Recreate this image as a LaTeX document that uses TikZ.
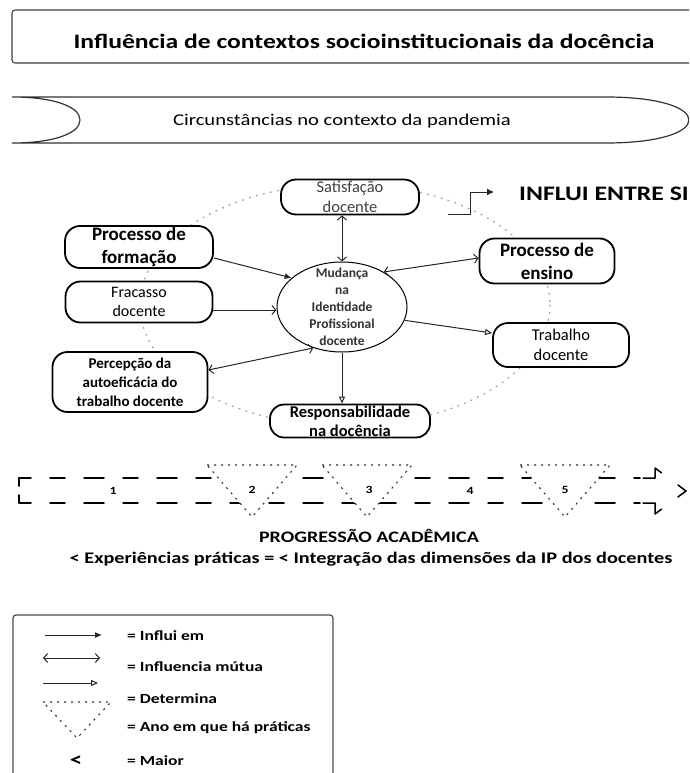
\documentclass[tikz,border=0pt]{standalone}
\usepackage{fontspec}
\setmainfont{Carlito}[FakeStretch=1.25]
\newfontfamily\nodefont{Carlito}
\usetikzlibrary{arrows.meta,shapes.geometric}
\begin{document}
\begin{tikzpicture}[x=1pt,y=-1pt,
  box/.style={draw=black,line width=1.8pt,rounded corners=15pt,fill=white,align=center,inner sep=0pt},
  dotline/.style={draw=gray!70,line width=1.3pt,dash pattern=on 1.2pt off 6pt,line cap=round},
  tridot/.style={draw=black!80,line width=1.1pt,dash pattern=on 2pt off 5pt,fill=white},
  conn/.style={line width=1pt,draw=black!85},
  influi/.style={conn,-{Latex[length=7pt,width=6pt]}},
  mutua/.style={conn,{Straight Barb[length=4pt,width=9pt]}-{Straight Barb[length=4pt,width=9pt]}},
  uni/.style={conn,-{Straight Barb[length=4pt,width=9pt]}},
  determ/.style={conn,-{Triangle[open,length=7pt,width=6pt]}},
  bandline/.style={line width=1.5pt,line cap=round,line join=round},
  lgtext/.style={anchor=west,inner sep=0pt,font=\fontsize{14}{16}\selectfont\bfseries},
  numtext/.style={inner sep=0pt,font=\fontsize{11}{13}\selectfont\bfseries}
]
\clip (0,0) rectangle (689,773);
\fill[white] (0,0) rectangle (689,773);

% title
\draw[line width=1.1pt,draw=black!75,rounded corners=3pt] (12,10) rectangle (720,63);
\node[inner sep=0pt,font=\fontsize{20.5}{24}\selectfont\bfseries] (title) at (364,41) {Influência de contextos socioinstitucionais da docência};

% pandemia band
\draw[line width=1.2pt,draw=black!80] (12,97) -- (606,97) .. controls (660,97) and (689,108) .. (689,120)
  .. controls (689,132) and (660,143) .. (606,143) -- (12,143)
  .. controls (55,143) and (80,133) .. (80,120) .. controls (80,107) and (55,97) .. (12,97);
\node[inner sep=0pt,font=\fontsize{16.5}{20}\selectfont] (pand) at (342,121) {Circunstâncias no contexto da pandemia};

% dotted ring
\draw[dotline] (345,305) ellipse [x radius=205, y radius=121];

% nodes
\node[box,minimum width=138pt,minimum height=35pt,text=gray!50!black,font=\nodefont\fontsize{16.5}{20}\selectfont] (sat) at (350,197) {Satisfação\\docente};
\node[box,minimum width=148pt,minimum height=42pt,font=\nodefont\fontsize{19}{23}\selectfont\bfseries] (pf) at (139,247) {Processo de\\formação};
\node[box,minimum width=135pt,minimum height=45pt,font=\nodefont\fontsize{19}{23}\selectfont\bfseries] (pe) at (547,261) {Processo de\\ensino};
\node[box,minimum width=147pt,minimum height=41pt,font=\nodefont\fontsize{16}{19}\selectfont] (fr) at (139,302) {Fracasso\\docente};
\node[box,minimum width=155pt,minimum height=60pt,font=\nodefont\fontsize{15}{19}\selectfont\bfseries] (pc) at (130,382) {Percepção da\\autoeficácia do\\trabalho docente};
\node[box,minimum width=160pt,minimum height=33pt,rounded corners=14pt,font=\nodefont\fontsize{16.5}{19}\selectfont\bfseries] (rs) at (350,421) {Responsabilidade\\na docência};
\node[box,minimum width=136pt,minimum height=44pt,font=\nodefont\fontsize{16.5}{20}\selectfont] (tb) at (561,345) {Trabalho\\docente};
\node[ellipse,draw=black,line width=1pt,fill=white,minimum width=130pt,minimum height=90pt,inner sep=0pt] (el) at (342,307) {};
\node[inner sep=0pt,align=center,font=\nodefont\fontsize{13.5}{17}\selectfont\bfseries,text=black!80] (elt) at (342,307) {Mudança\\na\\Identidade\\Profissional\\docente};

% connectors
\draw[mutua] (el.north |- sat.south) -- (el.north);
\draw[influi] ([yshift=-11pt]pf.east) -- (el.150);
\draw[uni] ([yshift=-8pt]fr.east) -- ([yshift=-8pt]fr.east -| el.west);
\draw[mutua] ([yshift=12pt]pc.east) -- (el.235);
\draw[mutua] (el.40) -- ([yshift=3pt]pe.west);
\draw[determ] (el.-12) -- ([yshift=12pt]tb.west);
\draw[determ] (el.south) -- (el.south |- rs.north);

% influi entre si
\node[anchor=west,inner sep=0pt,font=\fontsize{20.6}{24}\selectfont\bfseries] (ies) at (519,194) {INFLUI ENTRE SI};
\coordinate (ia) at (448,214);
\coordinate (ib) at (470,214);
\coordinate (ic) at (494,192);
\draw[conn,-{Latex[length=7pt,width=7pt]}] (ia) -- (ib) |- (ic);

% progression band (dashed block arrow)
\draw[bandline,dash pattern=on 20pt off 19pt on 15pt off 19pt] (19,486) -- (19,478) -- (640,478);
\draw[bandline,dash pattern=on 20pt off 19pt on 15pt off 19pt] (19,495) -- (19,503) -- (640,503);
\draw[bandline,dash pattern=on 30pt off 20.6pt on 20pt off 20.6pt on 40pt off 5pt]
  (643,478) -- (655,478) -- (655,468) -- (686,491) -- (655,514) -- (655,503) -- (643,503);
\draw[tridot] (207,465) -- (297,465) -- (252,517) -- cycle;
\draw[tridot] (322,465) -- (412,465) -- (367,517) -- cycle;
\draw[tridot] (520,465) -- (610,465) -- (565,517) -- cycle;
\node[numtext] (n1) at (113,491) {1};
\node[numtext] (n2) at (252,490) {2};
\node[numtext] (n3) at (369,490) {3};
\node[numtext] (n4) at (470,491) {4};
\node[numtext] (n5) at (565,490) {5};

\node[inner sep=0pt,font=\fontsize{16}{19}\selectfont\bfseries] (prog) at (369,536) {PROGRESSÃO ACADÊMICA};
\node[inner sep=0pt,font=\fontsize{16.2}{19}\selectfont\bfseries] (exp) at (371,559) {< Experiências práticas = < Integração das dimensões da IP dos docentes};

% legend
\draw[line width=1.2pt,draw=black!70,rounded corners=3pt] (13,615) rectangle (333,800);
\coordinate (l1a) at (45,635); \coordinate (l1b) at (102,635);
\draw[influi] (l1a) -- (l1b);
\node[lgtext] (t1) at (127,636) {= Influi em};
\coordinate (l2a) at (43,658); \coordinate (l2b) at (100,658);
\draw[mutua] (l2a) -- (l2b);
\node[lgtext] (t2) at (127,667) {= Influencia mútua};
\coordinate (l3a) at (43,683); \coordinate (l3b) at (98,683);
\draw[determ] (l3a) -- (l3b);
\node[lgtext] (t3) at (127,699) {= Determina};
\draw[tridot] (43,702) -- (111,702) -- (77,738) -- cycle;
\node[lgtext] (t4) at (127,728) {= Ano em que há práticas};
\node[inner sep=0pt,font=\fontsize{20}{22}\selectfont\bfseries] (lt) at (76,761) {<};
\node[lgtext] (t5) at (127,761) {= Maior};
\end{tikzpicture}
\end{document}
